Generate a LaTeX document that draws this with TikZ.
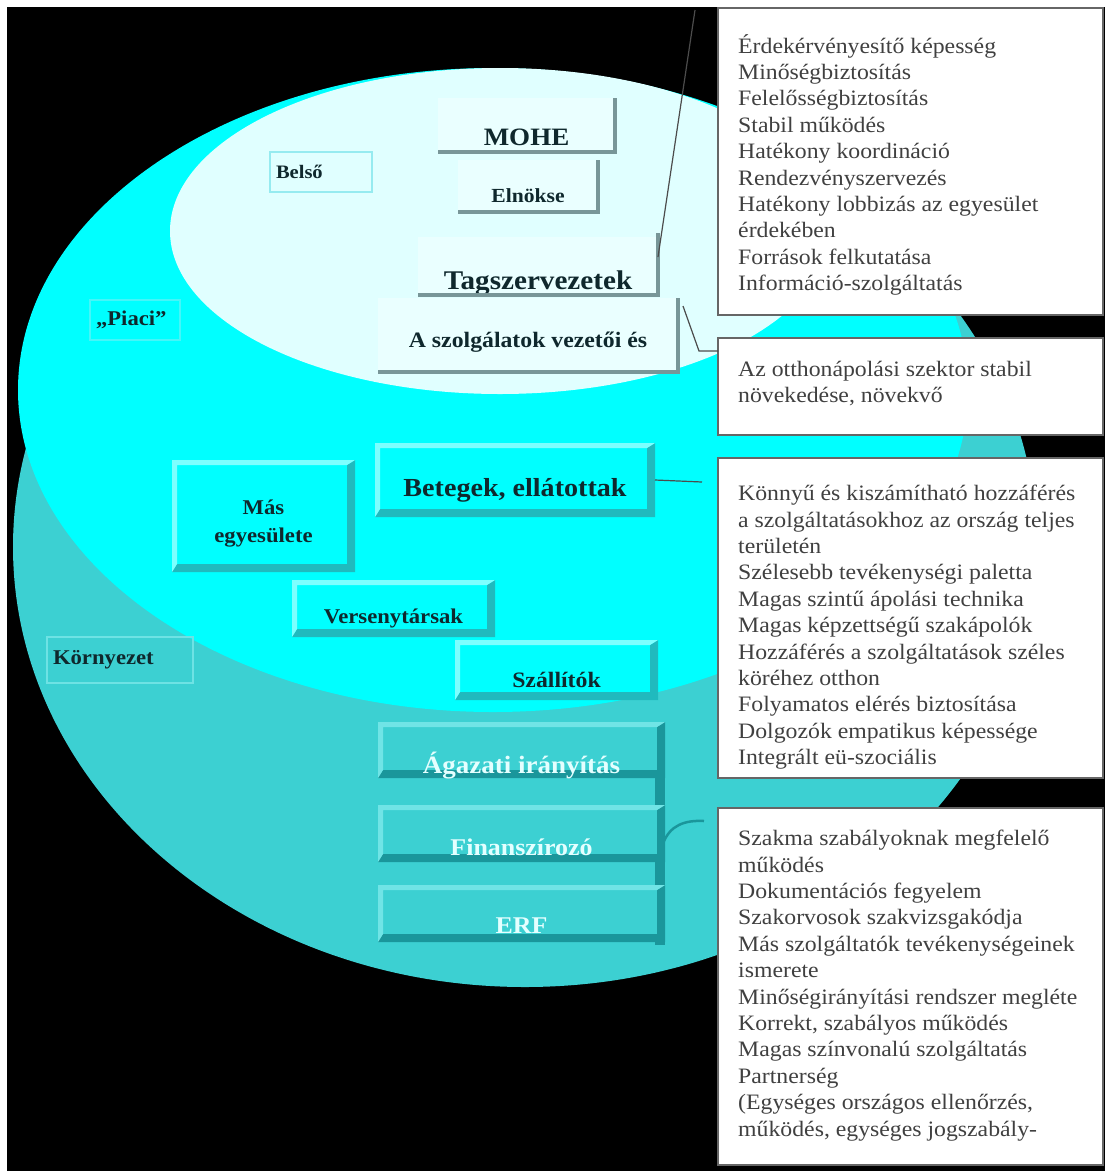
\documentclass[tikz,border=0pt]{standalone}
\usepackage{fontspec}
\setmainfont{Liberation Serif}[FakeStretch=1.08]
\usepackage{tikz}
\usetikzlibrary{calc}

\definecolor{tealbg}{RGB}{60,208,210}
\definecolor{cyanbg}{RGB}{0,255,255}
\definecolor{palebg}{RGB}{224,255,255}
\definecolor{paleface}{RGB}{234,255,255}
\definecolor{cyanhi}{RGB}{125,255,255}
\definecolor{cyanlo}{RGB}{32,186,190}
\definecolor{tealhi}{RGB}{112,228,230}
\definecolor{tealdk}{RGB}{26,150,155}
\definecolor{shadegray}{RGB}{120,150,152}
\definecolor{boxtext}{RGB}{15,40,45}
\definecolor{tealtext}{RGB}{228,255,255}
\definecolor{belsoline}{RGB}{150,235,240}
\definecolor{piaciline}{RGB}{70,245,248}
\definecolor{kornyline}{RGB}{110,226,228}

\tikzset{
    bevel/.style 2 args={path picture={
        \fill[#2] (path picture bounding box.south west) -- (path picture bounding box.south east)
            -- (path picture bounding box.north east) -- ([xshift=-8pt,yshift=-5pt]path picture bounding box.north east)
            -- ([xshift=-8pt,yshift=8pt]path picture bounding box.south east) -- ([xshift=5pt,yshift=8pt]path picture bounding box.south west) -- cycle;
        \fill[#1] (path picture bounding box.south west) -- (path picture bounding box.north west)
            -- (path picture bounding box.north east) -- ([xshift=-8pt,yshift=-5pt]path picture bounding box.north east)
            -- ([xshift=5pt,yshift=-5pt]path picture bounding box.north west) -- ([xshift=5pt,yshift=8pt]path picture bounding box.south west) -- cycle;}},
    boxsize/.style 2 args={minimum width=#1pt, minimum height=#2pt},
    bold/.style={font=\bfseries\fontsize{#1}{#1}\selectfont},
    sink/.style={text height=#1pt, text depth=0pt},
    cyanbox/.style={rectangle, inner sep=0pt, outer sep=0pt, fill=cyanbg, bevel={cyanhi}{cyanlo}, text=boxtext},
    tealbox/.style={rectangle, inner sep=0pt, outer sep=0pt, fill=tealbg, bevel={tealhi}{tealdk}, text=tealtext},
    palebox/.style={rectangle, inner sep=0pt, outer sep=0pt, fill=paleface, text=boxtext},
    areabox/.style={rectangle, inner xsep=6pt, inner ysep=0pt, outer sep=0pt, draw=#1, line width=2pt, text=boxtext, align=left},
    shadeline/.style={draw=shadegray, line width=3.5pt},
    listbox/.style={rectangle, draw=black!60, line width=1.6pt, fill=white, anchor=north west, inner sep=0pt, outer sep=0pt},
    listtext/.style={anchor=north west, inner sep=0pt, align=left, text=black!75,
        font=\fontsize{22}{26.4}\selectfont, execute at begin node=\rule{0pt}{20pt}},
    callout/.style={draw=black!70, line width=1.2pt},
    tealbar/.style={draw=tealdk, line width=10pt},
    tealcallout/.style={draw=tealdk, line width=2.5pt}
}

\begin{document}
\begin{tikzpicture}[x=1pt, y=-1pt]
            \useasboundingbox (0,0) rectangle (1105,1171);
            \fill[white] (0,0) rectangle (1105,1171);
            \fill[black] (7,7) rectangle (1105,1171);
            \fill[tealbg] (525,547) ellipse [x radius=512pt, y radius=440pt];
            \fill[cyanbg] (493,390) ellipse [x radius=475pt, y radius=322pt];
            \fill[palebg] (500,231) ellipse [x radius=330pt, y radius=163pt];

            \node[palebox, boxsize={177}{54}, bold=25, sink=40] (mohe) at (526.5,125) {MOHE};
            \node[palebox, boxsize={140}{52}, bold=20, sink=32] (elnok) at (528,186) {Elnökse};
            \node[palebox, boxsize={240}{58}, bold=27, sink=46] (tag) at (538,266) {Tagszervezetek};
            \node[palebox, boxsize={300}{74}, bold=22, sink=25] (svc) at (528,335) {A szolgálatok vezetői és};
            \draw[shadeline] (mohe.north east) -- (mohe.south east) -- (mohe.south west);
            \draw[shadeline] (elnok.north east) -- (elnok.south east) -- (elnok.south west);
            \draw[shadeline] ([yshift=4pt]tag.north east) -- (tag.south east) -- (tag.south west);
            \draw[shadeline] (svc.north east) -- (svc.south east) -- (svc.south west);
            \node[areabox=belsoline, boxsize={102}{40}, text width=90pt, bold=19] (belso) at (321,172) {Belső};
            \node[areabox=piaciline, boxsize={90}{40}, text width=78pt, bold=21] (piaci) at (135,320) {„Piaci”};
            \node[areabox=kornyline, boxsize={146}{46}, text width=134pt, bold=21] (kornyezet) at (120,660) {Környezet};

            \node[cyanbox, boxsize={280}{74}, bold=26, sink=32] (betegek) at (515,480) {Betegek, ellátottak};
            \node[cyanbox, boxsize={183}{112}, align=center, font=\bfseries\fontsize{21}{28}\selectfont] (mas) at (263.5,516) {\rule{0pt}{30pt}Más\\egyesülete};
            \node[cyanbox, boxsize={203}{57}, bold=21, sink=29] (verseny) at (393.5,608.5) {Versenytársak};
            \node[cyanbox, boxsize={203}{60}, bold=22, sink=35] (szall) at (556.5,670) {Szállítók};

            \draw[tealbar] ([xshift=-5pt]665,722) -- ([xshift=-5pt]665,945);
            \node[tealbox, boxsize={287}{56}, bold=25, sink=47] (agazati) at (521.5,750) {Ágazati irányítás};
            \node[tealbox, boxsize={287}{57}, bold=24, sink=43] (finansz) at (521.5,833.5) {Finanszírozó};
            \node[tealbox, boxsize={287}{57}, bold=24, sink=40] (erf) at (521.5,913.5) {ERF};

            \node[listbox, boxsize={385}{307}] (lista) at (718,8) {};
            \node[listbox, boxsize={385}{97}] (listb) at (718,338) {};
            \node[listbox, boxsize={385}{320}] (listc) at (718,458) {};
            \node[listbox, boxsize={385}{357}] (listd) at (718,808) {};
            \node[listtext] (listatext) at ([shift={(20pt,-26pt)}]lista.north west) {Érdekérvényesítő képesség\\Minőségbiztosítás\\Felelősségbiztosítás\\Stabil működés\\Hatékony koordináció\\Rendezvényszervezés\\Hatékony lobbizás az egyesület\\érdekében\\Források felkutatása\\Információ-szolgáltatás};
            \node[listtext] (listbtext) at ([shift={(20pt,-23pt)}]listb.north west) {Az otthonápolási szektor stabil\\növekedése, növekvő};
            \node[listtext] (listctext) at ([shift={(20pt,-27pt)}]listc.north west) {Könnyű és kiszámítható hozzáférés\\a szolgáltatásokhoz az ország teljes\\területén\\Szélesebb tevékenységi paletta\\Magas szintű ápolási technika\\Magas képzettségű szakápolók\\Hozzáférés a szolgáltatások széles\\köréhez otthon\\Folyamatos elérés biztosítása\\Dolgozók empatikus képessége\\Integrált eü-szociális};
            \node[listtext] (listdtext) at ([shift={(20pt,-22pt)}]listd.north west) {Szakma szabályoknak megfelelő\\működés\\Dokumentációs fegyelem\\Szakorvosok szakvizsgakódja\\Más szolgáltatók tevékenységeinek\\ismerete\\Minőségirányítási rendszer megléte\\Korrekt, szabályos működés\\Magas színvonalú szolgáltatás\\Partnerség\\(Egységes országos ellenőrzés,\\működés, egységes jogszabály-};

            \coordinate (atip) at (695,10);
            \coordinate (bbend) at (699,351);
            \coordinate (ctip) at (702,482);
            \coordinate (dtip) at (704,821);
            \draw[callout] ([yshift=-20pt]tag.north east) -- (atip);
            \draw[callout] ([xshift=5pt,yshift=-8pt]svc.north east) -- (bbend) -- (listb.west |- bbend);
            \draw[callout] (betegek.east) -- (ctip);
            \draw[tealcallout] ([xshift=-2pt,yshift=-10pt]finansz.east) .. controls (670,825) and (685,820) .. (dtip);
\end{tikzpicture}
\end{document}
